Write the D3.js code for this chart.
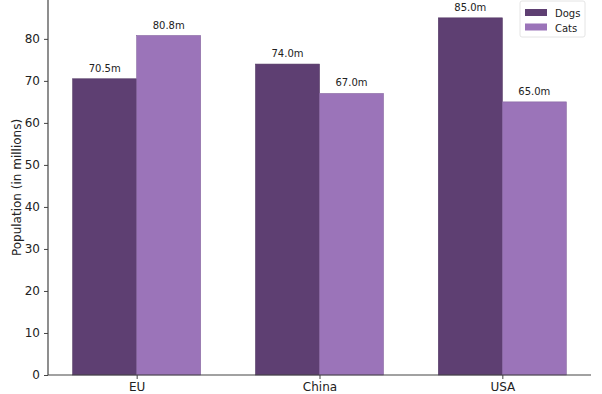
<!DOCTYPE html>
<html><head><meta charset="utf-8">
<script src="https://cdn.jsdelivr.net/npm/d3@7"></script>
<style>body{margin:0;background:#fff}svg{display:block}text{font-family:"DejaVu Sans",sans-serif}</style>
</head><body>
<svg id="c" width="602" height="394"></svg>
<script>
const categories = ["EU", "China", "USA"];
const seriesNames = ["Dogs", "Cats"];
const dogs = [70.5, 74.0, 85.0];
const cats = [80.8, 67.0, 65.0];
const yTicks = [0, 10, 20, 30, 40, 50, 60, 70, 80];
const colors = ["#5e3f72", "#9b74b9"];

(function () {
const svg = d3.select("#c");
const mLeft = 48, mRight = 591, mTop = 0, mBottom = 375;
const x = d3.scaleLinear().domain([-0.485, 2.485]).range([mLeft, mRight]);
const y = d3.scaleLinear().domain([0, 89.25]).range([mBottom, mTop]);
const bw = 0.35;
const series = [dogs, cats];

series.forEach((vals, s) => {
  const g = svg.append("g");
  g.selectAll("rect").data(vals).join("rect")
    .attr("x", (d, i) => x(i + (s - 1) * bw))
    .attr("width", x(bw) - x(0))
    .attr("y", d => y(d))
    .attr("height", d => y(0) - y(d))
    .attr("fill", colors[s])
    .attr("stroke", d3.color(colors[s]).darker(0.4))
    .attr("stroke-width", 0.6);
  g.selectAll("text").data(vals).join("text")
    .attr("x", (d, i) => x(i + (s - 0.5) * bw))
    .attr("y", d => y(d) - 7)
    .attr("text-anchor", "middle")
    .attr("font-size", 10)
    .attr("fill", "#222")
    .text(d => d.toFixed(1) + "m");
});

const yAxis = svg.append("g").attr("transform", `translate(${mLeft},0)`)
  .call(d3.axisLeft(y).tickValues(yTicks).tickSize(4).tickPadding(4).tickFormat(d3.format("d")));
const xAxis = svg.append("g").attr("transform", `translate(0,${mBottom})`)
  .call(d3.axisBottom(x).tickValues([0, 1, 2]).tickSize(4).tickPadding(3).tickFormat(i => categories[i]));
[yAxis, xAxis].forEach(a => {
  a.selectAll("text").attr("font-size", 12).attr("fill", "#222").style("font-family", "DejaVu Sans");
  a.selectAll("line").attr("stroke", "#444");
  a.select(".domain").attr("stroke", "#444").attr("stroke-width", 1.2);
});
yAxis.select(".domain").attr("d", `M0,${mBottom}V${mTop}`);
xAxis.select(".domain").attr("d", `M${mLeft},0H${mRight}`);

svg.append("text")
  .attr("transform", `translate(21,${(mTop + mBottom) / 2 + 0}) rotate(-90)`)
  .attr("text-anchor", "middle")
  .attr("font-size", 12).attr("fill", "#222")
  .text("Population (in millions)");

const lg = svg.append("g").attr("transform", "translate(520,1)");
lg.append("rect").attr("width", 65).attr("height", 36).attr("rx", 2)
  .attr("fill", "#fff").attr("stroke", "#ddd").attr("stroke-width", 0.8);
seriesNames.forEach((n, i) => {
  lg.append("rect").attr("x", 5).attr("y", 8 + i * 14.5).attr("width", 22).attr("height", 7).attr("fill", colors[i]);
  lg.append("text").attr("x", 35).attr("y", 16 + i * 14.5).attr("font-size", 10).attr("fill", "#222").text(n);
});
})();
</script>
</body></html>
